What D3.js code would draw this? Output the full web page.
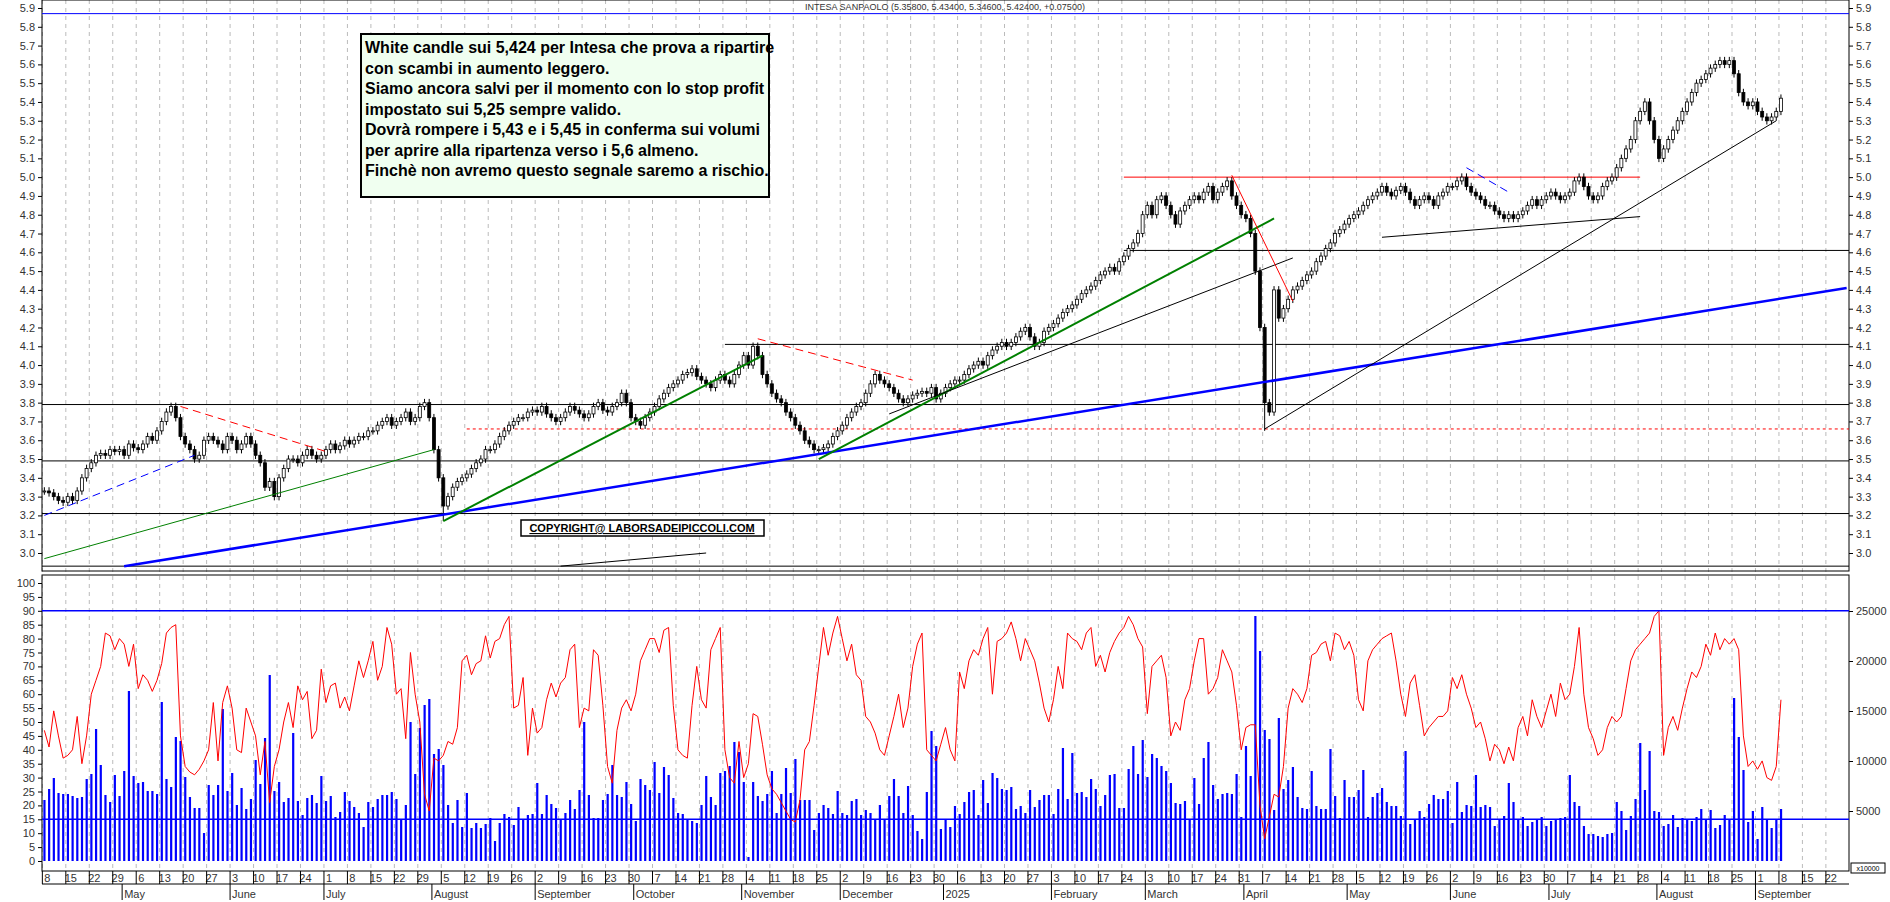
<!DOCTYPE html>
<html>
<head>
<meta charset="utf-8">
<script src="https://cdnjs.cloudflare.com/ajax/libs/d3/7.8.5/d3.min.js"></script>
<style>
 body{margin:0;background:#fff;}
 text{font-family:"Liberation Sans",Arial,sans-serif;}
 .ax text{font-size:11px;fill:#333;}
</style>
</head>
<body>
<svg width="1890" height="902"></svg>
<script>
// daily closes, one row per week starting Monday 8 Apr 2024
var closes = [
3.33,3.32,3.30,3.28,3.27, 3.30,3.28,3.33,3.40,3.45, 3.48,3.52,3.53,3.52,3.55, 3.54,3.55,3.52,3.58,3.56,
3.55,3.58,3.62,3.60,3.65, 3.70,3.75,3.78,3.72,3.62, 3.58,3.55,3.50,3.52,3.60, 3.62,3.60,3.58,3.55,3.62,
3.60,3.55,3.58,3.62,3.58, 3.52,3.48,3.35,3.38,3.30, 3.40,3.45,3.50,3.50,3.48, 3.52,3.55,3.52,3.50,3.52,
3.55,3.58,3.55,3.57,3.60, 3.58,3.60,3.62,3.62,3.65, 3.65,3.68,3.70,3.72,3.68, 3.70,3.72,3.75,3.70,3.72,
3.78,3.80,3.72,3.55,3.40, 3.25,3.30,3.35,3.38,3.40, 3.42,3.45,3.48,3.50,3.55, 3.55,3.58,3.62,3.65,3.68,
3.70,3.72,3.72,3.75,3.76, 3.75,3.78,3.74,3.72,3.70, 3.72,3.75,3.78,3.76,3.74, 3.72,3.74,3.78,3.80,3.76,
3.75,3.78,3.80,3.85,3.80, 3.72,3.70,3.68,3.72,3.75, 3.78,3.82,3.85,3.88,3.90, 3.92,3.95,3.96,3.98,3.94,
3.92,3.90,3.88,3.92,3.95, 3.92,3.90,3.95,4.00,4.05, 4.00,4.10,4.05,3.95,3.90, 3.85,3.82,3.80,3.75,3.72,
3.68,3.65,3.60,3.58,3.55, 3.55,3.56,3.58,3.62,3.65, 3.68,3.72,3.75,3.78,3.80, 3.85,3.90,3.95,3.92,3.90,
3.88,3.85,3.82,3.80,3.82, 3.84,3.85,3.86,3.85,3.88, 3.82,3.85,3.88,3.90,3.92, 3.92,3.95,3.98,4.00,4.02,
4.00,4.05,4.08,4.10,4.12, 4.10,4.12,4.15,4.18,4.20, 4.15,4.10,4.12,4.18,4.20, 4.22,4.25,4.28,4.30,4.32,
4.35,4.38,4.40,4.42,4.45, 4.48,4.50,4.52,4.50,4.55, 4.58,4.62,4.65,4.70,4.80, 4.85,4.80,4.88,4.90,4.85,
4.80,4.75,4.82,4.85,4.88, 4.90,4.88,4.92,4.95,4.88, 4.92,4.95,4.98,4.90,4.85, 4.80,4.78,4.70,4.50,4.20,
3.80,3.75,4.40,4.25,4.30, 4.35,4.40,4.42,4.45,4.48, 4.50,4.55,4.58,4.62,4.65, 4.70,4.72,4.75,4.78,4.80,
4.82,4.85,4.88,4.90,4.92, 4.95,4.92,4.90,4.93,4.95, 4.92,4.88,4.85,4.88,4.90, 4.88,4.85,4.90,4.92,4.95,
4.95,4.98,5.00,4.95,4.92, 4.90,4.88,4.85,4.85,4.82, 4.80,4.78,4.80,4.78,4.80, 4.82,4.85,4.88,4.85,4.88,
4.90,4.92,4.90,4.88,4.90, 4.92,4.98,5.00,4.95,4.90, 4.88,4.90,4.95,4.98,5.00, 5.05,5.10,5.15,5.20,5.30,
5.35,5.40,5.30,5.20,5.10, 5.15,5.20,5.25,5.30,5.35, 5.40,5.45,5.50,5.52,5.55, 5.58,5.60,5.62,5.60,5.62,
5.55,5.45,5.40,5.38,5.40, 5.35,5.32,5.30,5.32,5.35, 5.42];

var oscill = [
47,41,54,45,37, 38,40,52,35,45, 60,65,70,82,81, 76,80,78,70,78, 62,67,65,61,65, 71,82,84,85,45,
34,32,31,33,36, 40,57,36,57,63, 55,40,39,55,50, 45,31,43,21,34, 40,50,57,48,63, 58,61,44,47,69,
57,63,64,55,59, 54,63,72,66,72, 79,65,70,84,78, 60,62,44,75,60, 50,24,18,37,36, 38,43,42,48,72,
74,67,71,72,81, 73,79,80,85,88, 55,56,66,38,55, 46,48,58,64,59, 64,66,76,78,48, 55,54,76,74,56,
34,28,47,55,58, 54,60,72,76,80, 80,75,83,84,56, 40,38,37,56,70, 58,55,76,80,84, 40,30,28,43,30,
35,53,52,42,31, 26,24,21,18,15, 14,22,40,43,56, 70,84,74,82,88, 80,72,78,67,65, 52,50,46,40,38,
45,52,60,48,55, 70,78,82,40,38, 36,42,48,40,36, 68,62,72,76,74, 80,84,60,79,80, 82,86,80,72,80,
76,72,64,55,50, 58,70,62,82,80, 79,76,82,84,70, 74,68,75,79,82, 84,88,85,80,77, 53,70,72,74,66,
45,50,47,58,62, 72,80,80,60,62, 66,76,72,68,56, 40,48,49,49,20, 8,16,24,23,34, 55,62,60,57,62,
74,75,78,79,72, 82,81,76,79,74, 58,54,72,76,78, 80,81,82,72,60, 52,64,67,56,45, 48,50,52,52,54,
66,62,67,60,55, 48,50,44,36,42, 40,35,41,36,48, 52,45,58,52,48, 54,60,52,64,58, 60,70,84,60,48,
44,38,40,48,52, 50,52,62,72,76, 78,80,82,88,90, 38,48,52,47,55, 62,68,66,70,78, 74,82,76,80,78,
80,76,45,34,36, 33,36,30,29,34, 58];

// volume, thousands (axis shown x10000)
var volume = [
6.1,7.2,8.3,6.8,6.7, 6.7,6.5,6.3,6.4,8.2, 8.7,13.2,9.6,6.6,5.9, 8.6,6.5,9.0,17,8.5, 7.8,7.9,7.0,7.0,6.7,
15.9,8.2,7.4,12.4,12.0, 8.4,6.4,5.3,5.3,2.8, 7.6,6.6,7.6,15.2,7.0, 8.8,5.6,7.3,5.2,6.2, 10.1,7.7,12.3,18.6,7.0,
7.9,5.9,6.3,12.8,6.0, 4.6,6.3,6.6,5.8,8.5, 6.0,6.5,4.4,4.9,6.9, 6.0,5.4,4.8,3.4,5.9, 5.4,6.2,6.6,6.6,6.9,
6.2,4.2,5.6,13.9,8.7, 13.3,15.6,16.2,10.7,11.2, 9.6,5.6,3.8,6.1,3.4, 6.8,3.3,3.8,3.3,3.7, 4.3,2.0,3.8,4.7,4.4,
3.6,5.4,4.2,4.6,4.7, 7.8,4.7,6.6,5.7,5.3, 4.1,4.8,6.1,5.2,7.1, 13.9,6.6,4.3,4.3,6.1, 6.7,9.6,6.6,6.4,7.9,
5.7,4.0,8.2,7.6,7.1, 9.9,6.8,9.4,8.6,6.3, 4.8,4.7,4.1,4.0,3.8, 5.6,8.5,6.4,5.6,8.8, 9.0,9.5,11.9,10.9,7.9,
0.4,7.9,6.5,6.0,6.7, 9.0,4.8,6.7,9.3,6.8, 10.2,6.1,6.1,6.1,3.1, 4.8,5.6,5.3,4.7,7.0, 4.8,4.6,6.0,6.2,4.6,
5.1,4.8,4.1,5.6,4.1, 6.5,8.2,6.5,4.8,7.5, 4.6,3.0,2.2,6.9,13.0, 11.5,3.2,4.1,3.4,5.5, 4.7,5.9,6.9,7.1,4.6,
8.1,5.8,8.8,8.3,7.2, 7.1,7.4,5.2,5.5,4.8, 7.1,5.4,6.1,6.6,6.6, 4.7,7.2,11.3,6.2,10.8, 6.8,6.9,6.4,8.2,7.2,
5.5,6.6,8.6,8.7,5.3, 5.3,9.2,11.5,8.7,12.1, 8.4,10.7,10.3,9.5,9.0, 7.8,5.8,5.7,6.0,4.1, 8.3,5.7,10.3,11.9,7.6,
6.2,6.7,6.8,6.7,8.7, 4.4,11.5,8.5,24.5,21.0, 13.1,12.2,5.1,14.3,7.2, 8.1,9.4,6.4,5.3,5.2, 9.0,5.5,5.2,5.2,11.2,
6.5,4.3,8.1,6.4,6.4, 7.1,9.1,4.4,6.4,6.8, 7.3,5.9,5.5,5.5,4.5, 11.0,3.7,4.1,5.0,4.4, 5.7,6.6,6.2,6.2,7.0,
3.8,7.9,4.9,5.6,5.5, 8.6,5.4,5.6,5.4,3.5, 4.1,4.5,7.8,5.9,4.1, 4.4,3.5,3.9,4.1,4.4, 3.5,4.0,4.2,4.3,4.4,
8.6,5.9,5.5,3.5,2.7, 2.7,2.5,2.4,2.7,2.8, 5.9,5.0,3.1,4.5,6.2, 11.8,7.1,11.0,5.0,4.9, 3.5,3.7,4.6,3.4,4.3,
4.2,4.0,4.4,5.2,4.2, 5.1,3.3,3.6,4.6,4.2, 16.3,12.4,9.1,3.9,5.0, 2.2,5.4,4.1,3.3,4.1, 5.2];

var priceTicks = d3.range(30, 60).map(function(v){return v/10;});
var oscTicks = d3.range(0, 101, 5);
var volTicks = [5, 10, 15, 20, 25];
var monthNames = ["January","February","March","April","May","June","July","August","September","October","November","December"];
var noteLines = [
 "White candle sui 5,424 per Intesa che prova a ripartire",
 "con scambi in aumento leggero.",
 "Siamo ancora salvi per il momento con lo stop profit",
 "impostato sui 5,25 sempre valido.",
 "Dovrà rompere i 5,43 e i 5,45 in conferma sui volumi",
 "per aprire alla ripartenza verso i 5,6 almeno.",
 "Finchè non avremo questo segnale saremo a rischio."];
var title = "INTESA SANPAOLO (5.35800, 5.43400, 5.34600, 5.42400, +0.07500)";

// trend lines: [date1, price1, date2, price2, colour, width, dash]
var trendLines = [
 ["2024-04-08",3.20,"2024-05-22",3.52,"blue",1,"8,5"],
 ["2024-04-08",2.97,"2024-08-01",3.55,"green",1,null],
 ["2024-05-01",2.93,"2025-09-26",4.41,"blue",2.5,null],
 ["2024-05-17",3.78,"2024-07-01",3.54,"red",1,"8,5"],
 ["2024-08-05",3.17,"2024-11-07",4.05,"green",2,null],
 ["2024-11-06",4.14,"2024-12-23",3.92,"red",1,"8,5"],
 ["2024-11-25",3.50,"2025-04-09",4.78,"green",2,null],
 ["2024-12-16",3.74,"2025-04-15",4.57,"black",1,null],
 ["2025-03-27",5.01,"2025-04-15",4.34,"red",1,null],
 ["2025-04-07",3.66,"2025-09-05",5.30,"black",1,null],
 ["2025-05-12",4.68,"2025-07-28",4.79,"black",1,null],
 ["2025-06-05",5.05,"2025-06-18",4.92,"blue",1,"8,5"],
 ["2024-09-09",2.93,"2024-10-22",3.00,"black",1,null]
];
// horizontal levels: [price, fromDate or null, colour, width, dash]
var levels = [
 [5.87,null,"blue",1,null],[3.79,null,"black",1,null],[3.49,null,"black",1,null],
 [3.21,null,"black",1,null],[2.93,null,"black",1,null],[4.11,"2024-10-28","black",1,null],
 [4.61,"2025-02-24","black",1,null],[3.66,"2024-08-12","red",1,"3,3"]
];
var redLevel = [5.00,"2025-02-24","2025-07-28"];

var svg = d3.select("svg");
var L = 42, R = 1849;

// trading-day calendar
var days = [];
for (var d = new Date(2024,3,8); d <= new Date(2025,8,26); d.setDate(d.getDate()+1)) {
  if (d.getDay() != 0 && d.getDay() != 6) days.push(new Date(d));
}
var x = d3.scaleLinear().domain([-0.5, days.length-0.5]).range([L, R]);
function idx(s){
  var t = new Date(s+"T00:00:00");
  var i = days.findIndex(function(dd){return dd >= t;});
  return i < 0 ? days.length-1 : i;
}
var y = d3.scaleLinear().domain([3.0,5.9]).range([553,8]);
var yo = d3.scaleLinear().domain([0,100]).range([861,583]);
var yv = d3.scaleLinear().domain([0,25]).range([861,611]);

var candles = closes.map(function(c,i){
  var o = i ? closes[i-1] : c;
  return {i:i, o:o, c:c, h:Math.max(o,c)+0.02, l:Math.min(o,c)-0.02};
});
candles[85].l = 3.17; candles[260].l = 3.65;

// weekly dashed grid
var mondays = days.map(function(dd,i){return {d:dd,i:i};}).filter(function(o){return o.d.getDay()==1;});
svg.append("g").selectAll("line").data(mondays).join("line")
  .attr("x1",function(o){return x(o.i)-2;}).attr("x2",function(o){return x(o.i)-2;})
  .attr("y1",0).attr("y2",871).attr("stroke","#bbb").attr("stroke-dasharray","4,4");

// frames
svg.append("rect").attr("x",L).attr("y",0).attr("width",R-L).attr("height",571).attr("fill","none").attr("stroke","#000");
svg.append("rect").attr("x",L).attr("y",575).attr("width",R-L).attr("height",296).attr("fill","none").attr("stroke","#000");

// levels
levels.forEach(function(l){
  svg.append("line").attr("x1",l[1]?x(idx(l[1])):L).attr("x2",R).attr("y1",y(l[0])).attr("y2",y(l[0]))
    .attr("stroke",l[2]).attr("stroke-width",l[3]).attr("stroke-dasharray",l[4]);
});
svg.append("line").attr("x1",x(idx(redLevel[1]))).attr("x2",x(idx(redLevel[2]))).attr("y1",y(redLevel[0])).attr("y2",y(redLevel[0])).attr("stroke","red");

// candles
var cg = svg.append("g");
cg.selectAll("line").data(candles).join("line")
  .attr("x1",function(d){return x(d.i);}).attr("x2",function(d){return x(d.i);})
  .attr("y1",function(d){return y(d.h);}).attr("y2",function(d){return y(d.l);}).attr("stroke","#000");
cg.selectAll("rect").data(candles).join("rect")
  .attr("x",function(d){return x(d.i)-1.5;}).attr("width",3)
  .attr("y",function(d){return y(Math.max(d.o,d.c));})
  .attr("height",function(d){return Math.max(1,Math.abs(y(d.o)-y(d.c)));})
  .attr("fill",function(d){return d.c>=d.o?"#fff":"#000";}).attr("stroke","#000").attr("stroke-width",0.8);

// trend lines
trendLines.forEach(function(t){
  svg.append("line").attr("x1",x(idx(t[0]))).attr("y1",y(t[1])).attr("x2",x(idx(t[2]))).attr("y2",y(t[3]))
    .attr("stroke",t[4]).attr("stroke-width",t[5]).attr("stroke-dasharray",t[6]);
});

// price axes
var pa = svg.append("g").attr("class","ax");
pa.append("g").attr("transform","translate("+L+",0)")
  .call(d3.axisLeft(y).tickValues(priceTicks).tickFormat(d3.format(".1f")).tickSize(4));
pa.append("g").attr("transform","translate("+R+",0)")
  .call(d3.axisRight(y).tickValues(priceTicks).tickFormat(d3.format(".1f")).tickSize(4));
pa.selectAll(".domain").remove();

// lower panel
svg.append("g").selectAll("rect").data(volume).join("rect")
  .attr("x",function(v,i){return x(i)-1;}).attr("width",2.2)
  .attr("y",function(v){return yv(v);}).attr("height",function(v){return 861-yv(v);}).attr("fill","blue");
svg.append("path").datum(oscill).attr("fill","none").attr("stroke","red").attr("stroke-width",1)
  .attr("d",d3.line().x(function(v,i){return x(i);}).y(function(v){return yo(v);}));
[90,15].forEach(function(v){
  svg.append("line").attr("x1",L).attr("x2",R).attr("y1",yo(v)).attr("y2",yo(v)).attr("stroke","blue").attr("stroke-width",1.5);
});
var la = svg.append("g").attr("class","ax");
la.append("g").attr("transform","translate("+L+",0)").call(d3.axisLeft(yo).tickValues(oscTicks).tickSize(4));
la.append("g").attr("transform","translate("+R+",0)")
  .call(d3.axisRight(yv).tickValues(volTicks).tickFormat(function(v){return v*1000;}).tickSize(4));
la.selectAll(".domain").remove();
svg.append("rect").attr("x",R+2).attr("y",863).attr("width",34).attr("height",10).attr("fill","#fff").attr("stroke","#000");
svg.append("text").attr("x",R+19).attr("y",871).attr("text-anchor","middle").attr("font-size",7).text("x10000");

// date axis
var xa = svg.append("g").attr("class","ax");
xa.append("line").attr("x1",L).attr("x2",R).attr("y1",884).attr("y2",884).attr("stroke","#000");
xa.selectAll(".day").data(mondays).join("text").attr("class","day")
  .attr("x",function(o){return x(o.i)+3;}).attr("y",882).attr("text-anchor","middle")
  .text(function(o){return o.d.getDate();});
xa.selectAll(".dtick").data(mondays).join("line").attr("class","dtick")
  .attr("x1",function(o){return x(o.i)-2;}).attr("x2",function(o){return x(o.i)-2;})
  .attr("y1",871).attr("y2",884).attr("stroke","#000");
var firsts = days.map(function(dd,i){return {d:dd,i:i};})
  .filter(function(o,k,a){return k>0 && o.d.getMonth()!=a[k-1].d.getMonth();});
xa.selectAll(".mtick").data(firsts).join("line").attr("class","mtick")
  .attr("x1",function(o){return x(o.i)-2;}).attr("x2",function(o){return x(o.i)-2;})
  .attr("y1",884).attr("y2",900).attr("stroke","#000");
xa.selectAll(".mon").data(firsts).join("text").attr("class","mon")
  .attr("x",function(o){return x(o.i);}).attr("y",898)
  .text(function(o){return o.d.getMonth()==0 ? o.d.getFullYear() : monthNames[o.d.getMonth()];});

// title
svg.append("text").attr("x",945).attr("y",10).attr("text-anchor","middle").attr("font-size",9).attr("fill","#333").text(title);

// note box
var nb = svg.append("g");
nb.append("rect").attr("x",361).attr("y",34).attr("width",408).attr("height",163).attr("fill","#f0fff0").attr("stroke","#000").attr("stroke-width",2);
nb.selectAll("text").data(noteLines).join("text").attr("x",365).attr("y",function(s,i){return 53+i*20.5;})
  .attr("font-size",16).attr("font-weight","bold").attr("fill","#000").text(function(s){return s;});

// copyright
svg.append("rect").attr("x",521).attr("y",520).attr("width",243).attr("height",16).attr("fill","#fff").attr("stroke","#000").attr("stroke-width",1.5);
svg.append("text").attr("x",642).attr("y",532).attr("text-anchor","middle").attr("font-size",11).attr("font-weight","bold")
  .attr("text-decoration","underline").text("COPYRIGHT@ LABORSADEIPICCOLI.COM");
</script>
</body>
</html>
